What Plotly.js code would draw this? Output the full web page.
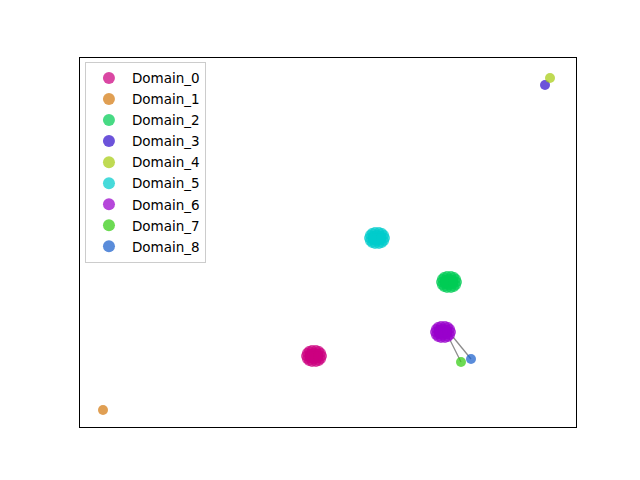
<!DOCTYPE html>
<html><head><meta charset="utf-8">
<script src="https://cdn.plot.ly/plotly-3.0.1.min.js"></script>
<style>body{margin:0}#c{width:640px;height:480px}</style>
</head><body><div id="c"></div>
<script>
const domains = ["Domain_0","Domain_1","Domain_2","Domain_3","Domain_4","Domain_5","Domain_6","Domain_7","Domain_8"];
const colors = ["#cc0080","#d47a10","#00cc55","#3311cc","#a6cc11","#00cccc","#9900cc","#33cc11","#1a5fcc"];
const xs = [
  [306,307,307,309,309,312,312,316,316,319,319,321,321,322,310,310,314,314,318,318,314,310,318],
  [103],
  [441,442,442,444,444,447,447,451,451,454,454,456,456,457,445,445,449,449,453,453,449,445,453],
  [545],
  [550],
  [369,370,370,372,372,375,375,379,379,382,382,384,384,385,373,373,377,377,381,381,377,373,381],
  [435,436,436,438,438,441,441,445,445,448,448,450,450,451,439,439,443,443,447,447,443,439,447],
  [461],
  [471]
];
const ys = [
  [124,127,121,129,119,130,118,130,118,129,119,127,121,124,126,122,127,121,126,122,124,124,124],
  [70],
  [198,201,195,203,193,204,192,204,192,203,193,201,195,198,200,196,201,195,200,196,198,198,198],
  [395],
  [402],
  [242,245,239,247,237,248,236,248,236,247,237,245,239,242,244,240,245,239,244,240,242,242,242],
  [148,151,145,153,143,154,142,154,142,153,143,151,145,148,150,146,151,145,150,146,148,148,148],
  [118],
  [121]
];
const linkX = [[449,461],[453,471]];
const linkY = [[142,118],[143,121]];

const traces = [];
for (let i=0;i<linkX.length;i++){
  traces.push({x:linkX[i],y:linkY[i],mode:'lines',type:'scatter',showlegend:false,hoverinfo:'skip',
    line:{color:'rgba(110,110,110,0.8)',width:1.3}});
}
for (let i=0;i<domains.length;i++){
  traces.push({x:xs[i],y:ys[i],name:domains[i],mode:'markers',type:'scatter',legendgroup:'g'+i,
    marker:{color:colors[i],size:10,opacity:0.72,line:{width:0}}});
}
const ax = {showticklabels:false,showgrid:false,zeroline:false,ticks:'',showline:true,mirror:true,linecolor:'#000',linewidth:1};
const layout = {
  width:640,height:480,paper_bgcolor:'#fff',plot_bgcolor:'#fff',
  margin:{l:80,r:64,t:58,b:53},
  xaxis:Object.assign({range:[80,576]},ax),
  yaxis:Object.assign({range:[53,422]},ax),
  font:{family:'DejaVu Sans',size:13,color:'#000'},
  showlegend:true,
  legend:{x:0.01,y:0.99,xanchor:'left',yanchor:'top',bgcolor:'rgba(255,255,255,0.8)',bordercolor:'#cccccc',borderwidth:1,
    font:{family:'DejaVu Sans',size:13.5},tracegroupgap:0.5,itemwidth:36,itemsizing:'constant'}
};
Plotly.newPlot('c',traces,layout,{displayModeBar:false,staticPlot:true});
</script></body></html>
